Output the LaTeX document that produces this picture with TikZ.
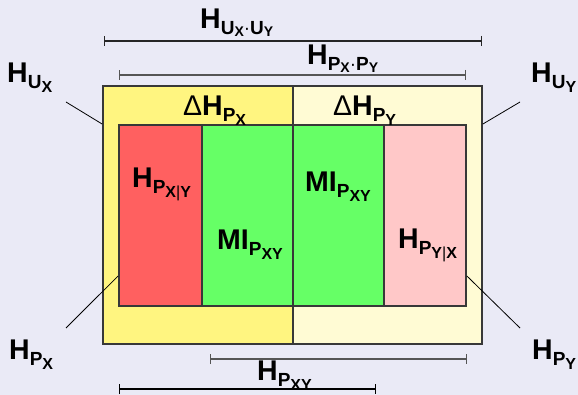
\documentclass[tikz,border=0pt]{standalone}
\usepackage{fontspec}
\setmainfont{Liberation Sans}
\usetikzlibrary{arrows.meta,positioning}

\definecolor{bgpage}{HTML}{EAEAF6}
\definecolor{yellowX}{HTML}{FFF580}
\definecolor{yellowY}{HTML}{FFFBD4}
\definecolor{redX}{HTML}{FF6060}
\definecolor{greenXY}{HTML}{66FF66}
\definecolor{pinkY}{HTML}{FFC8C8}
\definecolor{edgegray}{HTML}{383838}
\definecolor{dimgray}{HTML}{555555}

\newcommand\sub[1]{\raisebox{-6pt}{\fontsize{19}{19}\selectfont #1}}
\newcommand\subsub[1]{\raisebox{-4pt}{\fontsize{16}{16}\selectfont #1}}
\newcommand\tinysub[1]{\raisebox{-1.5pt}{\fontsize{14}{14}\selectfont #1}}

\begin{document}
\begin{tikzpicture}[x=1pt, y=-1pt,
    region/.style={draw=edgegray, line width=1.8pt, rectangle, inner sep=0pt},
    lbl/.style={inner sep=0pt, anchor=base west, font=\fontsize{28.5}{28.5}\selectfont\bfseries},
    dimline/.style={line width=1.1pt, {Bar[width=10pt]}-{Bar[width=10pt]}},
    leader/.style={line width=0.8pt, black}
]
    \fill[bgpage] (0,0) rectangle (578,395);
    \useasboundingbox (0,0) rectangle (578,395);

    % outer supports
    \node[region, fill=yellowX, minimum width=190pt, minimum height=258pt] (ux) at (198,215) {};
    \node[region, fill=yellowY, minimum width=189pt, minimum height=258pt] (uy) at (387.5,215) {};

    % inner parts
    \node[region, fill=redX, minimum width=83pt, minimum height=181pt] (pxgy) at (160.5,215.5) {};
    \node[region, fill=greenXY, minimum width=91pt, minimum height=181pt] (mix) at (247.5,215.5) {};
    \node[region, fill=greenXY, minimum width=91pt, minimum height=181pt] (miy) at (338.5,215.5) {};
    \node[region, fill=pinkY, minimum width=82pt, minimum height=181pt] (pygx) at (425,215.5) {};

    % labels inside
    \node[lbl] (dhx) at (183,116) {{\mdseries Δ}H\sub{P\subsub{X}}};
    \node[lbl] (dhy) at (333,116) {{\mdseries Δ}H\sub{P\subsub{Y}}};
    \node[lbl] (hxgy) at (132,188) {H\sub{P\subsub{X{\mdseries|}Y}}};
    \node[lbl] (mil) at (217,250) {MI\sub{P\subsub{XY}}};
    \node[lbl] (mir) at (305,192) {MI\sub{P\subsub{XY}}};
    \node[lbl] (hygx) at (398,249) {H\sub{P\subsub{Y{\mdseries|}X}}};

    % labels outside
    \node[lbl] (huxy) at (200,29) {H\sub{U\tinysub{X}{\mdseries·}U\tinysub{Y}}};
    \node[lbl] (hpxpy) at (307,65) {H\sub{P\tinysub{X}{\mdseries·}P\tinysub{Y}}};
    \node[lbl] (hux) at (7,83) {H\sub{U\subsub{X}}};
    \node[lbl] (huy) at (531,83) {H\sub{U\subsub{Y}}};
    \node[lbl] (hpx) at (9,359) {H\sub{P\subsub{X}}};
    \node[lbl] (hpy) at (532,359) {H\sub{P\subsub{Y}}};
    \node[lbl] (hpxy) at (257,380) {H\sub{P\subsub{XY}}};

    % dimension lines
    \coordinate (uxy-a) at (104,41);  \coordinate (uxy-b) at (482,41);
    \coordinate (pxpy-a) at (119,75); \coordinate (pxpy-b) at (466,75);
    \coordinate (pxy-a) at (210,359); \coordinate (pxy-b) at (467,359);
    \coordinate (pxy2-a) at (119,389); \coordinate (pxy2-b) at (376,389);
    \draw[dimline, black!85] (uxy-a) -- (uxy-b);
    \draw[dimline, dimgray] (pxpy-a) -- (pxpy-b);
    \draw[dimline, dimgray] (pxy-a) -- (pxy-b);
    \draw[dimline, black] (pxy2-a) -- (pxy2-b);

    % leader lines
    \coordinate (ux-tip) at (66,102);  \coordinate (ux-end) at ([yshift=91pt]ux.west);
    \coordinate (uy-tip) at (520,102); \coordinate (uy-end) at ([yshift=91pt]uy.east);
    \coordinate (px-tip) at (66,328);  \coordinate (px-end) at ([yshift=-60.5pt]pxgy.west);
    \coordinate (py-tip) at (520,328); \coordinate (py-end) at ([yshift=-60.5pt]pygx.east);
    \draw[leader] (ux-tip) -- (ux-end);
    \draw[leader] (uy-tip) -- (uy-end);
    \draw[leader] (px-tip) -- (px-end);
    \draw[leader] (py-tip) -- (py-end);
\end{tikzpicture}
\end{document}
